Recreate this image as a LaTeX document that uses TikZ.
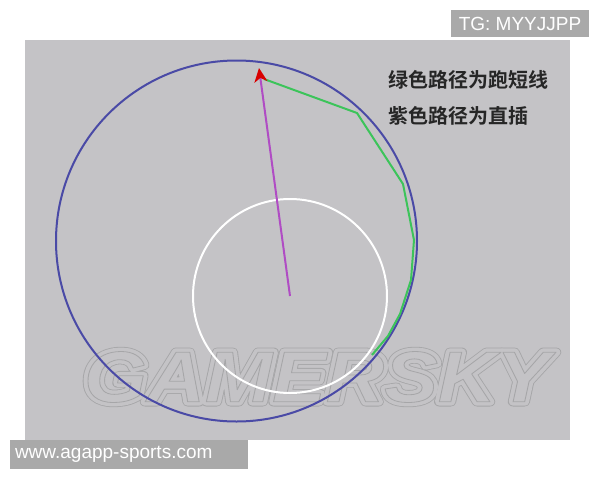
\documentclass[tikz,border=0pt]{standalone}
\usepackage{fontspec}
\setmainfont{Liberation Sans}
\newfontfamily\cjk{Noto Sans CJK SC}[BoldFont={Noto Sans CJK SC Bold}]
\usetikzlibrary{arrows.meta}
\definecolor{panel}{HTML}{C4C3C6}
\definecolor{tagbox}{HTML}{A9A9A9}
\definecolor{ringblue}{HTML}{4A4AA6}
\definecolor{shortgreen}{HTML}{3CC45A}
\definecolor{straightpurple}{HTML}{B04CC4}
\definecolor{wmline}{HTML}{A6A6A8}
% text render mode: #1 = mode, #2 = stroke width
\newcommand\wmtext[3]{\special{pdf:literal direct #1 Tr #2 w 1 j}#3\special{pdf:literal direct 0 Tr}}
\begin{document}
\begin{tikzpicture}[x=1pt,y=-1pt,
                wm/.style={font=\fontsize{72}{72}\selectfont\bfseries\itshape, xscale=1.12, inner sep=0pt},
                tag/.style={fill=tagbox, text=white, font=\fontsize{19}{19}\selectfont, inner sep=0pt},
                note/.style={anchor=west, text=black!85, font=\cjk\bfseries\fontsize{20}{20}\selectfont, inner sep=0pt}]
                \useasboundingbox (0,0) rectangle (600,480);
                \fill[white] (0,0) rectangle (600,480);
                \fill[panel] (25,40) rectangle (570,440);
                % watermark
                \node[wm, text=wmline] (mark) at (317,377) {\wmtext{2}{9.4}{GAMERSKY}};
                \node[wm, text=panel] at (mark) {\wmtext{2}{7.8}{GAMERSKY}};
                \node[wm, text=wmline] at (mark) {\wmtext{1}{0.8}{GAMERSKY}};
                % circles
                \draw[ringblue, line width=2pt] (236.5,241) circle (180.5);
                \draw[white, line width=2pt] (290,296) circle (97);
                % paths
                \coordinate (start) at (290,296);
                \coordinate (tip) at (259,68);
                \draw[shortgreen, line width=2pt, line join=round] (264,79) -- (357,113) -- (403,184) -- (414,240)
                    -- (411,280) -- (400,314) -- (388,336) -- (372,355);
                \draw[straightpurple, line width=2pt, -{Stealth[length=14pt, width=13pt, inset=4pt, color=red!85!black]}] (start) -- (tip);
                \node[note] (green) at (388,80) {绿色路径为跑短线};
                \node[note] (purple) at (388,116) {紫色路径为直插};
                % tags
                \node[tag, minimum width=138pt, minimum height=27pt] (tg) at (520,23.5) {TG: MYYJJPP};
                \node[tag, minimum width=238pt, minimum height=29pt, text width=228pt] (url) at (129,454.5) {www.agapp-sports.com};
\end{tikzpicture}
\end{document}
